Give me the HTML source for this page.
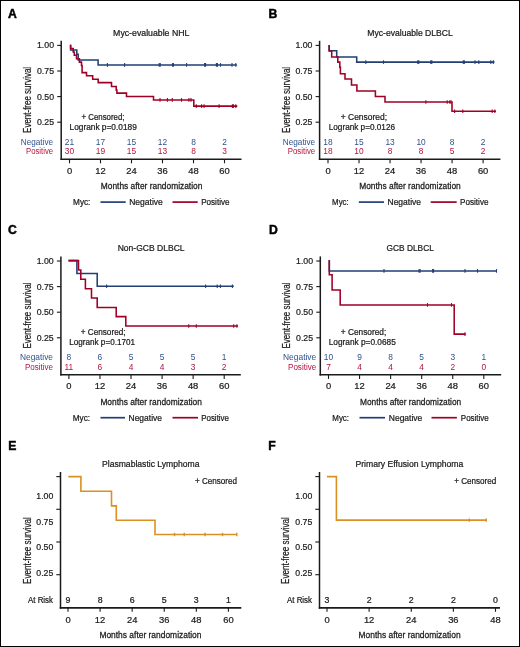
<!DOCTYPE html>
<html><head><meta charset="utf-8"><style>
html,body{margin:0;padding:0;background:#fff;}
body{width:520px;height:647px;overflow:hidden;}
svg{display:block;font-family:"Liberation Sans",sans-serif;will-change:transform;}
</style></head><body>
<svg width="520" height="647" viewBox="0 0 520 647">
<rect x="0" y="0" width="520" height="647" fill="#fff"/>
<rect x="0.5" y="0.5" width="519" height="646" fill="none" stroke="#000" stroke-width="1"/>
<g fill="#1a1a1a">
<text x="8.00" y="18.00" font-size="12.2" fill="#000" font-weight="bold" stroke="#000" stroke-width="0.45">A</text>
<text x="113.10" y="35.50" font-size="8.5" textLength="76.30" lengthAdjust="spacingAndGlyphs" stroke="#1a1a1a" stroke-width="0.22">Myc-evaluable NHL</text>
<line x1="61.20" y1="40.80" x2="61.20" y2="159.95" stroke="#1a1a1a" stroke-width="1.5"/>
<line x1="60.45" y1="159.20" x2="241.50" y2="159.20" stroke="#1a1a1a" stroke-width="1.6"/>
<line x1="57.20" y1="45.40" x2="61.20" y2="45.40" stroke="#1a1a1a" stroke-width="1.1"/>
<text x="54.00" y="48.30" font-size="9.3" text-anchor="end" textLength="17.00" lengthAdjust="spacingAndGlyphs" stroke="#1a1a1a" stroke-width="0.22">1.00</text>
<line x1="57.20" y1="71.00" x2="61.20" y2="71.00" stroke="#1a1a1a" stroke-width="1.1"/>
<text x="54.00" y="73.90" font-size="9.3" text-anchor="end" textLength="17.00" lengthAdjust="spacingAndGlyphs" stroke="#1a1a1a" stroke-width="0.22">0.75</text>
<line x1="57.20" y1="96.60" x2="61.20" y2="96.60" stroke="#1a1a1a" stroke-width="1.1"/>
<text x="54.00" y="99.50" font-size="9.3" text-anchor="end" textLength="17.00" lengthAdjust="spacingAndGlyphs" stroke="#1a1a1a" stroke-width="0.22">0.50</text>
<line x1="57.20" y1="122.20" x2="61.20" y2="122.20" stroke="#1a1a1a" stroke-width="1.1"/>
<text x="54.00" y="125.10" font-size="9.3" text-anchor="end" textLength="17.00" lengthAdjust="spacingAndGlyphs" stroke="#1a1a1a" stroke-width="0.22">0.25</text>
<text transform="translate(31.20,132.90) rotate(-90)" font-size="10.6" textLength="66" lengthAdjust="spacingAndGlyphs" stroke="#1a1a1a" stroke-width="0.22">Event-free survival</text>
<line x1="69.50" y1="159.20" x2="69.50" y2="163.30" stroke="#1a1a1a" stroke-width="1.1"/>
<text x="69.50" y="173.70" font-size="9.4" text-anchor="middle" stroke="#1a1a1a" stroke-width="0.22">0</text>
<text x="69.50" y="144.50" font-size="8.4" text-anchor="middle" fill="#2f5190">21</text>
<text x="69.50" y="154.10" font-size="8.4" text-anchor="middle" fill="#b3143f">30</text>
<line x1="100.50" y1="159.20" x2="100.50" y2="163.30" stroke="#1a1a1a" stroke-width="1.1"/>
<text x="100.50" y="173.70" font-size="9.4" text-anchor="middle" stroke="#1a1a1a" stroke-width="0.22">12</text>
<text x="100.50" y="144.50" font-size="8.4" text-anchor="middle" fill="#2f5190">17</text>
<text x="100.50" y="154.10" font-size="8.4" text-anchor="middle" fill="#b3143f">19</text>
<line x1="131.50" y1="159.20" x2="131.50" y2="163.30" stroke="#1a1a1a" stroke-width="1.1"/>
<text x="131.50" y="173.70" font-size="9.4" text-anchor="middle" stroke="#1a1a1a" stroke-width="0.22">24</text>
<text x="131.50" y="144.50" font-size="8.4" text-anchor="middle" fill="#2f5190">15</text>
<text x="131.50" y="154.10" font-size="8.4" text-anchor="middle" fill="#b3143f">15</text>
<line x1="162.50" y1="159.20" x2="162.50" y2="163.30" stroke="#1a1a1a" stroke-width="1.1"/>
<text x="162.50" y="173.70" font-size="9.4" text-anchor="middle" stroke="#1a1a1a" stroke-width="0.22">36</text>
<text x="162.50" y="144.50" font-size="8.4" text-anchor="middle" fill="#2f5190">12</text>
<text x="162.50" y="154.10" font-size="8.4" text-anchor="middle" fill="#b3143f">13</text>
<line x1="193.50" y1="159.20" x2="193.50" y2="163.30" stroke="#1a1a1a" stroke-width="1.1"/>
<text x="193.50" y="173.70" font-size="9.4" text-anchor="middle" stroke="#1a1a1a" stroke-width="0.22">48</text>
<text x="193.50" y="144.50" font-size="8.4" text-anchor="middle" fill="#2f5190">8</text>
<text x="193.50" y="154.10" font-size="8.4" text-anchor="middle" fill="#b3143f">8</text>
<line x1="224.50" y1="159.20" x2="224.50" y2="163.30" stroke="#1a1a1a" stroke-width="1.1"/>
<text x="224.50" y="173.70" font-size="9.4" text-anchor="middle" stroke="#1a1a1a" stroke-width="0.22">60</text>
<text x="224.50" y="144.50" font-size="8.4" text-anchor="middle" fill="#2f5190">2</text>
<text x="224.50" y="154.10" font-size="8.4" text-anchor="middle" fill="#b3143f">3</text>
<text x="20.80" y="144.60" font-size="8.4" fill="#2f5190" textLength="32.30" lengthAdjust="spacingAndGlyphs">Negative</text>
<text x="26.00" y="154.20" font-size="8.4" fill="#b3143f" textLength="27.10" lengthAdjust="spacingAndGlyphs">Positive</text>
<text x="81.50" y="119.50" font-size="8.4" textLength="43.00" lengthAdjust="spacingAndGlyphs" stroke="#1a1a1a" stroke-width="0.22">+ Censored;</text>
<text x="69.50" y="129.50" font-size="8.4" textLength="67.30" lengthAdjust="spacingAndGlyphs" stroke="#1a1a1a" stroke-width="0.22">Logrank p=0.0189</text>
<text x="100.80" y="188.90" font-size="9.9" textLength="101.60" lengthAdjust="spacingAndGlyphs" stroke="#1a1a1a" stroke-width="0.28">Months after randomization</text>
<text x="73.10" y="204.90" font-size="8.4" textLength="17.30" lengthAdjust="spacingAndGlyphs" stroke="#1a1a1a" stroke-width="0.22">Myc:</text>
<line x1="100.50" y1="202.10" x2="125.70" y2="202.10" stroke="#213f75" stroke-width="1.7"/>
<text x="129.20" y="204.90" font-size="8.4" textLength="33.60" lengthAdjust="spacingAndGlyphs" stroke="#1a1a1a" stroke-width="0.22">Negative</text>
<line x1="172.50" y1="202.10" x2="197.70" y2="202.10" stroke="#9e0026" stroke-width="1.7"/>
<text x="201.20" y="204.90" font-size="8.4" textLength="28.30" lengthAdjust="spacingAndGlyphs" stroke="#1a1a1a" stroke-width="0.22">Positive</text>
<text x="268.50" y="18.00" font-size="12.2" fill="#000" font-weight="bold" stroke="#000" stroke-width="0.45">B</text>
<text x="367.30" y="35.50" font-size="8.5" textLength="85.50" lengthAdjust="spacingAndGlyphs" stroke="#1a1a1a" stroke-width="0.22">Myc-evaluable DLBCL</text>
<line x1="319.60" y1="40.80" x2="319.60" y2="159.95" stroke="#1a1a1a" stroke-width="1.5"/>
<line x1="318.85" y1="159.20" x2="500.40" y2="159.20" stroke="#1a1a1a" stroke-width="1.6"/>
<line x1="315.60" y1="45.40" x2="319.60" y2="45.40" stroke="#1a1a1a" stroke-width="1.1"/>
<text x="312.40" y="48.30" font-size="9.3" text-anchor="end" textLength="17.00" lengthAdjust="spacingAndGlyphs" stroke="#1a1a1a" stroke-width="0.22">1.00</text>
<line x1="315.60" y1="71.00" x2="319.60" y2="71.00" stroke="#1a1a1a" stroke-width="1.1"/>
<text x="312.40" y="73.90" font-size="9.3" text-anchor="end" textLength="17.00" lengthAdjust="spacingAndGlyphs" stroke="#1a1a1a" stroke-width="0.22">0.75</text>
<line x1="315.60" y1="96.60" x2="319.60" y2="96.60" stroke="#1a1a1a" stroke-width="1.1"/>
<text x="312.40" y="99.50" font-size="9.3" text-anchor="end" textLength="17.00" lengthAdjust="spacingAndGlyphs" stroke="#1a1a1a" stroke-width="0.22">0.50</text>
<line x1="315.60" y1="122.20" x2="319.60" y2="122.20" stroke="#1a1a1a" stroke-width="1.1"/>
<text x="312.40" y="125.10" font-size="9.3" text-anchor="end" textLength="17.00" lengthAdjust="spacingAndGlyphs" stroke="#1a1a1a" stroke-width="0.22">0.25</text>
<text transform="translate(289.90,132.90) rotate(-90)" font-size="10.6" textLength="66" lengthAdjust="spacingAndGlyphs" stroke="#1a1a1a" stroke-width="0.22">Event-free survival</text>
<line x1="328.00" y1="159.20" x2="328.00" y2="163.30" stroke="#1a1a1a" stroke-width="1.1"/>
<text x="328.00" y="173.70" font-size="9.4" text-anchor="middle" stroke="#1a1a1a" stroke-width="0.22">0</text>
<text x="328.00" y="144.50" font-size="8.4" text-anchor="middle" fill="#2f5190">18</text>
<text x="328.00" y="154.10" font-size="8.4" text-anchor="middle" fill="#b3143f">18</text>
<line x1="359.02" y1="159.20" x2="359.02" y2="163.30" stroke="#1a1a1a" stroke-width="1.1"/>
<text x="359.02" y="173.70" font-size="9.4" text-anchor="middle" stroke="#1a1a1a" stroke-width="0.22">12</text>
<text x="359.02" y="144.50" font-size="8.4" text-anchor="middle" fill="#2f5190">15</text>
<text x="359.02" y="154.10" font-size="8.4" text-anchor="middle" fill="#b3143f">10</text>
<line x1="390.04" y1="159.20" x2="390.04" y2="163.30" stroke="#1a1a1a" stroke-width="1.1"/>
<text x="390.04" y="173.70" font-size="9.4" text-anchor="middle" stroke="#1a1a1a" stroke-width="0.22">24</text>
<text x="390.04" y="144.50" font-size="8.4" text-anchor="middle" fill="#2f5190">13</text>
<text x="390.04" y="154.10" font-size="8.4" text-anchor="middle" fill="#b3143f">8</text>
<line x1="421.06" y1="159.20" x2="421.06" y2="163.30" stroke="#1a1a1a" stroke-width="1.1"/>
<text x="421.06" y="173.70" font-size="9.4" text-anchor="middle" stroke="#1a1a1a" stroke-width="0.22">36</text>
<text x="421.06" y="144.50" font-size="8.4" text-anchor="middle" fill="#2f5190">10</text>
<text x="421.06" y="154.10" font-size="8.4" text-anchor="middle" fill="#b3143f">8</text>
<line x1="452.08" y1="159.20" x2="452.08" y2="163.30" stroke="#1a1a1a" stroke-width="1.1"/>
<text x="452.08" y="173.70" font-size="9.4" text-anchor="middle" stroke="#1a1a1a" stroke-width="0.22">48</text>
<text x="452.08" y="144.50" font-size="8.4" text-anchor="middle" fill="#2f5190">8</text>
<text x="452.08" y="154.10" font-size="8.4" text-anchor="middle" fill="#b3143f">5</text>
<line x1="483.10" y1="159.20" x2="483.10" y2="163.30" stroke="#1a1a1a" stroke-width="1.1"/>
<text x="483.10" y="173.70" font-size="9.4" text-anchor="middle" stroke="#1a1a1a" stroke-width="0.22">60</text>
<text x="483.10" y="144.50" font-size="8.4" text-anchor="middle" fill="#2f5190">2</text>
<text x="483.10" y="154.10" font-size="8.4" text-anchor="middle" fill="#b3143f">2</text>
<text x="282.80" y="144.60" font-size="8.4" fill="#2f5190" textLength="32.40" lengthAdjust="spacingAndGlyphs">Negative</text>
<text x="287.70" y="154.20" font-size="8.4" fill="#b3143f" textLength="27.50" lengthAdjust="spacingAndGlyphs">Positive</text>
<text x="340.75" y="119.50" font-size="8.4" textLength="46.25" lengthAdjust="spacingAndGlyphs" stroke="#1a1a1a" stroke-width="0.22">+ Censored;</text>
<text x="328.75" y="129.50" font-size="8.4" textLength="66.25" lengthAdjust="spacingAndGlyphs" stroke="#1a1a1a" stroke-width="0.22">Logrank p=0.0126</text>
<text x="359.20" y="188.90" font-size="9.9" textLength="101.60" lengthAdjust="spacingAndGlyphs" stroke="#1a1a1a" stroke-width="0.28">Months after randomization</text>
<text x="332.10" y="204.90" font-size="8.4" textLength="16.60" lengthAdjust="spacingAndGlyphs" stroke="#1a1a1a" stroke-width="0.22">Myc:</text>
<line x1="358.80" y1="202.10" x2="384.00" y2="202.10" stroke="#213f75" stroke-width="1.7"/>
<text x="387.50" y="204.90" font-size="8.4" textLength="33.50" lengthAdjust="spacingAndGlyphs" stroke="#1a1a1a" stroke-width="0.22">Negative</text>
<line x1="430.70" y1="202.10" x2="456.70" y2="202.10" stroke="#9e0026" stroke-width="1.7"/>
<text x="460.10" y="204.90" font-size="8.4" textLength="28.40" lengthAdjust="spacingAndGlyphs" stroke="#1a1a1a" stroke-width="0.22">Positive</text>
<text x="8.00" y="233.60" font-size="12.2" fill="#000" font-weight="bold" stroke="#000" stroke-width="0.45">C</text>
<text x="117.70" y="251.10" font-size="8.5" textLength="66.90" lengthAdjust="spacingAndGlyphs" stroke="#1a1a1a" stroke-width="0.22">Non-GCB DLBCL</text>
<line x1="60.90" y1="256.40" x2="60.90" y2="375.55" stroke="#1a1a1a" stroke-width="1.5"/>
<line x1="60.15" y1="374.80" x2="240.80" y2="374.80" stroke="#1a1a1a" stroke-width="1.6"/>
<line x1="56.90" y1="261.00" x2="60.90" y2="261.00" stroke="#1a1a1a" stroke-width="1.1"/>
<text x="53.70" y="263.90" font-size="9.3" text-anchor="end" textLength="17.00" lengthAdjust="spacingAndGlyphs" stroke="#1a1a1a" stroke-width="0.22">1.00</text>
<line x1="56.90" y1="286.60" x2="60.90" y2="286.60" stroke="#1a1a1a" stroke-width="1.1"/>
<text x="53.70" y="289.50" font-size="9.3" text-anchor="end" textLength="17.00" lengthAdjust="spacingAndGlyphs" stroke="#1a1a1a" stroke-width="0.22">0.75</text>
<line x1="56.90" y1="312.20" x2="60.90" y2="312.20" stroke="#1a1a1a" stroke-width="1.1"/>
<text x="53.70" y="315.10" font-size="9.3" text-anchor="end" textLength="17.00" lengthAdjust="spacingAndGlyphs" stroke="#1a1a1a" stroke-width="0.22">0.50</text>
<line x1="56.90" y1="337.80" x2="60.90" y2="337.80" stroke="#1a1a1a" stroke-width="1.1"/>
<text x="53.70" y="340.70" font-size="9.3" text-anchor="end" textLength="17.00" lengthAdjust="spacingAndGlyphs" stroke="#1a1a1a" stroke-width="0.22">0.25</text>
<text transform="translate(31.20,348.50) rotate(-90)" font-size="10.6" textLength="66" lengthAdjust="spacingAndGlyphs" stroke="#1a1a1a" stroke-width="0.22">Event-free survival</text>
<line x1="68.90" y1="374.80" x2="68.90" y2="378.90" stroke="#1a1a1a" stroke-width="1.1"/>
<text x="68.90" y="389.30" font-size="9.4" text-anchor="middle" stroke="#1a1a1a" stroke-width="0.22">0</text>
<text x="68.90" y="360.10" font-size="8.4" text-anchor="middle" fill="#2f5190">8</text>
<text x="68.90" y="369.70" font-size="8.4" text-anchor="middle" fill="#b3143f">11</text>
<line x1="99.96" y1="374.80" x2="99.96" y2="378.90" stroke="#1a1a1a" stroke-width="1.1"/>
<text x="99.96" y="389.30" font-size="9.4" text-anchor="middle" stroke="#1a1a1a" stroke-width="0.22">12</text>
<text x="99.96" y="360.10" font-size="8.4" text-anchor="middle" fill="#2f5190">6</text>
<text x="99.96" y="369.70" font-size="8.4" text-anchor="middle" fill="#b3143f">6</text>
<line x1="131.02" y1="374.80" x2="131.02" y2="378.90" stroke="#1a1a1a" stroke-width="1.1"/>
<text x="131.02" y="389.30" font-size="9.4" text-anchor="middle" stroke="#1a1a1a" stroke-width="0.22">24</text>
<text x="131.02" y="360.10" font-size="8.4" text-anchor="middle" fill="#2f5190">5</text>
<text x="131.02" y="369.70" font-size="8.4" text-anchor="middle" fill="#b3143f">4</text>
<line x1="162.08" y1="374.80" x2="162.08" y2="378.90" stroke="#1a1a1a" stroke-width="1.1"/>
<text x="162.08" y="389.30" font-size="9.4" text-anchor="middle" stroke="#1a1a1a" stroke-width="0.22">36</text>
<text x="162.08" y="360.10" font-size="8.4" text-anchor="middle" fill="#2f5190">5</text>
<text x="162.08" y="369.70" font-size="8.4" text-anchor="middle" fill="#b3143f">4</text>
<line x1="193.14" y1="374.80" x2="193.14" y2="378.90" stroke="#1a1a1a" stroke-width="1.1"/>
<text x="193.14" y="389.30" font-size="9.4" text-anchor="middle" stroke="#1a1a1a" stroke-width="0.22">48</text>
<text x="193.14" y="360.10" font-size="8.4" text-anchor="middle" fill="#2f5190">5</text>
<text x="193.14" y="369.70" font-size="8.4" text-anchor="middle" fill="#b3143f">3</text>
<line x1="224.20" y1="374.80" x2="224.20" y2="378.90" stroke="#1a1a1a" stroke-width="1.1"/>
<text x="224.20" y="389.30" font-size="9.4" text-anchor="middle" stroke="#1a1a1a" stroke-width="0.22">60</text>
<text x="224.20" y="360.10" font-size="8.4" text-anchor="middle" fill="#2f5190">1</text>
<text x="224.20" y="369.70" font-size="8.4" text-anchor="middle" fill="#b3143f">2</text>
<text x="20.00" y="360.20" font-size="8.4" fill="#2f5190" textLength="33.00" lengthAdjust="spacingAndGlyphs">Negative</text>
<text x="25.00" y="369.80" font-size="8.4" fill="#b3143f" textLength="28.00" lengthAdjust="spacingAndGlyphs">Positive</text>
<text x="80.75" y="335.10" font-size="8.4" textLength="44.75" lengthAdjust="spacingAndGlyphs" stroke="#1a1a1a" stroke-width="0.22">+ Censored;</text>
<text x="69.25" y="345.10" font-size="8.4" textLength="65.75" lengthAdjust="spacingAndGlyphs" stroke="#1a1a1a" stroke-width="0.22">Logrank p=0.1701</text>
<text x="100.40" y="404.50" font-size="9.9" textLength="101.50" lengthAdjust="spacingAndGlyphs" stroke="#1a1a1a" stroke-width="0.28">Months after randomization</text>
<text x="72.80" y="420.50" font-size="8.4" textLength="17.30" lengthAdjust="spacingAndGlyphs" stroke="#1a1a1a" stroke-width="0.22">Myc:</text>
<line x1="100.50" y1="417.70" x2="125.00" y2="417.70" stroke="#213f75" stroke-width="1.7"/>
<text x="128.50" y="420.50" font-size="8.4" textLength="33.50" lengthAdjust="spacingAndGlyphs" stroke="#1a1a1a" stroke-width="0.22">Negative</text>
<line x1="172.50" y1="417.70" x2="198.00" y2="417.70" stroke="#9e0026" stroke-width="1.7"/>
<text x="201.20" y="420.50" font-size="8.4" textLength="27.80" lengthAdjust="spacingAndGlyphs" stroke="#1a1a1a" stroke-width="0.22">Positive</text>
<text x="269.00" y="233.60" font-size="12.2" fill="#000" font-weight="bold" stroke="#000" stroke-width="0.45">D</text>
<text x="386.60" y="251.10" font-size="8.5" textLength="47.20" lengthAdjust="spacingAndGlyphs" stroke="#1a1a1a" stroke-width="0.22">GCB DLBCL</text>
<line x1="320.30" y1="256.40" x2="320.30" y2="375.55" stroke="#1a1a1a" stroke-width="1.5"/>
<line x1="319.55" y1="374.80" x2="501.20" y2="374.80" stroke="#1a1a1a" stroke-width="1.6"/>
<line x1="316.30" y1="261.00" x2="320.30" y2="261.00" stroke="#1a1a1a" stroke-width="1.1"/>
<text x="313.10" y="263.90" font-size="9.3" text-anchor="end" textLength="17.00" lengthAdjust="spacingAndGlyphs" stroke="#1a1a1a" stroke-width="0.22">1.00</text>
<line x1="316.30" y1="286.60" x2="320.30" y2="286.60" stroke="#1a1a1a" stroke-width="1.1"/>
<text x="313.10" y="289.50" font-size="9.3" text-anchor="end" textLength="17.00" lengthAdjust="spacingAndGlyphs" stroke="#1a1a1a" stroke-width="0.22">0.75</text>
<line x1="316.30" y1="312.20" x2="320.30" y2="312.20" stroke="#1a1a1a" stroke-width="1.1"/>
<text x="313.10" y="315.10" font-size="9.3" text-anchor="end" textLength="17.00" lengthAdjust="spacingAndGlyphs" stroke="#1a1a1a" stroke-width="0.22">0.50</text>
<line x1="316.30" y1="337.80" x2="320.30" y2="337.80" stroke="#1a1a1a" stroke-width="1.1"/>
<text x="313.10" y="340.70" font-size="9.3" text-anchor="end" textLength="17.00" lengthAdjust="spacingAndGlyphs" stroke="#1a1a1a" stroke-width="0.22">0.25</text>
<text transform="translate(289.90,348.50) rotate(-90)" font-size="10.6" textLength="66" lengthAdjust="spacingAndGlyphs" stroke="#1a1a1a" stroke-width="0.22">Event-free survival</text>
<line x1="328.50" y1="374.80" x2="328.50" y2="378.90" stroke="#1a1a1a" stroke-width="1.1"/>
<text x="328.50" y="389.30" font-size="9.4" text-anchor="middle" stroke="#1a1a1a" stroke-width="0.22">0</text>
<text x="328.50" y="360.10" font-size="8.4" text-anchor="middle" fill="#2f5190">10</text>
<text x="328.50" y="369.70" font-size="8.4" text-anchor="middle" fill="#b3143f">7</text>
<line x1="359.56" y1="374.80" x2="359.56" y2="378.90" stroke="#1a1a1a" stroke-width="1.1"/>
<text x="359.56" y="389.30" font-size="9.4" text-anchor="middle" stroke="#1a1a1a" stroke-width="0.22">12</text>
<text x="359.56" y="360.10" font-size="8.4" text-anchor="middle" fill="#2f5190">9</text>
<text x="359.56" y="369.70" font-size="8.4" text-anchor="middle" fill="#b3143f">4</text>
<line x1="390.62" y1="374.80" x2="390.62" y2="378.90" stroke="#1a1a1a" stroke-width="1.1"/>
<text x="390.62" y="389.30" font-size="9.4" text-anchor="middle" stroke="#1a1a1a" stroke-width="0.22">24</text>
<text x="390.62" y="360.10" font-size="8.4" text-anchor="middle" fill="#2f5190">8</text>
<text x="390.62" y="369.70" font-size="8.4" text-anchor="middle" fill="#b3143f">4</text>
<line x1="421.68" y1="374.80" x2="421.68" y2="378.90" stroke="#1a1a1a" stroke-width="1.1"/>
<text x="421.68" y="389.30" font-size="9.4" text-anchor="middle" stroke="#1a1a1a" stroke-width="0.22">36</text>
<text x="421.68" y="360.10" font-size="8.4" text-anchor="middle" fill="#2f5190">5</text>
<text x="421.68" y="369.70" font-size="8.4" text-anchor="middle" fill="#b3143f">4</text>
<line x1="452.74" y1="374.80" x2="452.74" y2="378.90" stroke="#1a1a1a" stroke-width="1.1"/>
<text x="452.74" y="389.30" font-size="9.4" text-anchor="middle" stroke="#1a1a1a" stroke-width="0.22">48</text>
<text x="452.74" y="360.10" font-size="8.4" text-anchor="middle" fill="#2f5190">3</text>
<text x="452.74" y="369.70" font-size="8.4" text-anchor="middle" fill="#b3143f">2</text>
<line x1="483.80" y1="374.80" x2="483.80" y2="378.90" stroke="#1a1a1a" stroke-width="1.1"/>
<text x="483.80" y="389.30" font-size="9.4" text-anchor="middle" stroke="#1a1a1a" stroke-width="0.22">60</text>
<text x="483.80" y="360.10" font-size="8.4" text-anchor="middle" fill="#2f5190">1</text>
<text x="483.80" y="369.70" font-size="8.4" text-anchor="middle" fill="#b3143f">0</text>
<text x="283.00" y="360.20" font-size="8.4" fill="#2f5190" textLength="33.25" lengthAdjust="spacingAndGlyphs">Negative</text>
<text x="288.00" y="369.80" font-size="8.4" fill="#b3143f" textLength="28.25" lengthAdjust="spacingAndGlyphs">Positive</text>
<text x="340.75" y="335.10" font-size="8.4" textLength="45.50" lengthAdjust="spacingAndGlyphs" stroke="#1a1a1a" stroke-width="0.22">+ Censored;</text>
<text x="328.75" y="345.10" font-size="8.4" textLength="67.00" lengthAdjust="spacingAndGlyphs" stroke="#1a1a1a" stroke-width="0.22">Logrank p=0.0685</text>
<text x="360.00" y="404.50" font-size="9.9" textLength="101.20" lengthAdjust="spacingAndGlyphs" stroke="#1a1a1a" stroke-width="0.28">Months after randomization</text>
<text x="332.30" y="420.50" font-size="8.4" textLength="16.70" lengthAdjust="spacingAndGlyphs" stroke="#1a1a1a" stroke-width="0.22">Myc:</text>
<line x1="359.50" y1="417.70" x2="385.00" y2="417.70" stroke="#213f75" stroke-width="1.7"/>
<text x="388.80" y="420.50" font-size="8.4" textLength="33.50" lengthAdjust="spacingAndGlyphs" stroke="#1a1a1a" stroke-width="0.22">Negative</text>
<line x1="431.50" y1="417.70" x2="456.90" y2="417.70" stroke="#9e0026" stroke-width="1.7"/>
<text x="460.80" y="420.50" font-size="8.4" textLength="28.00" lengthAdjust="spacingAndGlyphs" stroke="#1a1a1a" stroke-width="0.22">Positive</text>
<path d="M70.60,44.70 H70.60 V49.90 H76.80 V54.30 H78.20 V59.90 H98.10 V64.90 H236.90" fill="none" stroke="#213f75" stroke-width="1.55" stroke-linejoin="miter" stroke-linecap="butt"/>
<line x1="107.40" y1="63.10" x2="107.40" y2="66.70" stroke="#213f75" stroke-width="1.1"/>
<line x1="124.60" y1="63.10" x2="124.60" y2="66.70" stroke="#213f75" stroke-width="1.1"/>
<line x1="159.20" y1="63.10" x2="159.20" y2="66.70" stroke="#213f75" stroke-width="1.1"/>
<line x1="160.20" y1="63.10" x2="160.20" y2="66.70" stroke="#213f75" stroke-width="1.1"/>
<line x1="172.50" y1="63.10" x2="172.50" y2="66.70" stroke="#213f75" stroke-width="1.1"/>
<line x1="173.50" y1="63.10" x2="173.50" y2="66.70" stroke="#213f75" stroke-width="1.1"/>
<line x1="186.60" y1="63.10" x2="186.60" y2="66.70" stroke="#213f75" stroke-width="1.1"/>
<line x1="204.60" y1="63.10" x2="204.60" y2="66.70" stroke="#213f75" stroke-width="1.1"/>
<line x1="205.60" y1="63.10" x2="205.60" y2="66.70" stroke="#213f75" stroke-width="1.1"/>
<line x1="216.40" y1="63.10" x2="216.40" y2="66.70" stroke="#213f75" stroke-width="1.1"/>
<line x1="217.40" y1="63.10" x2="217.40" y2="66.70" stroke="#213f75" stroke-width="1.1"/>
<line x1="220.50" y1="63.10" x2="220.50" y2="66.70" stroke="#213f75" stroke-width="1.1"/>
<line x1="232.00" y1="63.10" x2="232.00" y2="66.70" stroke="#213f75" stroke-width="1.1"/>
<line x1="235.80" y1="63.10" x2="235.80" y2="66.70" stroke="#213f75" stroke-width="1.1"/>
<path d="M70.60,44.70 H70.60 V48.50 H73.20 V52.00 H74.30 V55.30 H76.50 V58.80 H79.40 V62.10 H81.50 V65.50 H82.10 V72.60 H86.50 V75.70 H92.70 V79.20 H98.20 V82.60 H111.50 V86.50 H116.20 V90.00 H116.90 V93.10 H126.50 V96.40 H153.50 V99.90 H193.80 V106.10 H237.30" fill="none" stroke="#9e0026" stroke-width="1.55" stroke-linejoin="miter" stroke-linecap="butt"/>
<line x1="160.00" y1="98.10" x2="160.00" y2="101.70" stroke="#9e0026" stroke-width="1.1"/>
<line x1="167.40" y1="98.10" x2="167.40" y2="101.70" stroke="#9e0026" stroke-width="1.1"/>
<line x1="172.30" y1="98.10" x2="172.30" y2="101.70" stroke="#9e0026" stroke-width="1.1"/>
<line x1="181.50" y1="98.10" x2="181.50" y2="101.70" stroke="#9e0026" stroke-width="1.1"/>
<line x1="188.90" y1="98.10" x2="188.90" y2="101.70" stroke="#9e0026" stroke-width="1.1"/>
<line x1="191.00" y1="98.10" x2="191.00" y2="101.70" stroke="#9e0026" stroke-width="1.1"/>
<line x1="196.30" y1="104.30" x2="196.30" y2="107.90" stroke="#9e0026" stroke-width="1.1"/>
<line x1="201.60" y1="104.30" x2="201.60" y2="107.90" stroke="#9e0026" stroke-width="1.1"/>
<line x1="204.10" y1="104.30" x2="204.10" y2="107.90" stroke="#9e0026" stroke-width="1.1"/>
<line x1="219.10" y1="104.30" x2="219.10" y2="107.90" stroke="#9e0026" stroke-width="1.1"/>
<line x1="232.40" y1="104.30" x2="232.40" y2="107.90" stroke="#9e0026" stroke-width="1.1"/>
<line x1="233.50" y1="104.30" x2="233.50" y2="107.90" stroke="#9e0026" stroke-width="1.1"/>
<line x1="235.80" y1="104.30" x2="235.80" y2="107.90" stroke="#9e0026" stroke-width="1.1"/>
<path d="M329.20,44.90 H329.20 V50.70 H336.70 V56.90 H356.70 V62.10 H494.50" fill="none" stroke="#213f75" stroke-width="1.55" stroke-linejoin="miter" stroke-linecap="butt"/>
<line x1="365.80" y1="60.30" x2="365.80" y2="63.90" stroke="#213f75" stroke-width="1.1"/>
<line x1="383.50" y1="60.30" x2="383.50" y2="63.90" stroke="#213f75" stroke-width="1.1"/>
<line x1="417.80" y1="60.30" x2="417.80" y2="63.90" stroke="#213f75" stroke-width="1.1"/>
<line x1="418.80" y1="60.30" x2="418.80" y2="63.90" stroke="#213f75" stroke-width="1.1"/>
<line x1="430.80" y1="60.30" x2="430.80" y2="63.90" stroke="#213f75" stroke-width="1.1"/>
<line x1="431.80" y1="60.30" x2="431.80" y2="63.90" stroke="#213f75" stroke-width="1.1"/>
<line x1="463.30" y1="60.30" x2="463.30" y2="63.90" stroke="#213f75" stroke-width="1.1"/>
<line x1="464.30" y1="60.30" x2="464.30" y2="63.90" stroke="#213f75" stroke-width="1.1"/>
<line x1="475.00" y1="60.30" x2="475.00" y2="63.90" stroke="#213f75" stroke-width="1.1"/>
<line x1="478.80" y1="60.30" x2="478.80" y2="63.90" stroke="#213f75" stroke-width="1.1"/>
<line x1="490.80" y1="60.30" x2="490.80" y2="63.90" stroke="#213f75" stroke-width="1.1"/>
<line x1="493.30" y1="60.30" x2="493.30" y2="63.90" stroke="#213f75" stroke-width="1.1"/>
<path d="M329.20,44.90 H329.20 V50.90 H331.70 V56.90 H337.80 V62.10 H339.80 V67.30 H340.40 V73.70 H345.00 V78.90 H351.50 V84.90 H356.90 V91.00 H375.40 V96.50 H385.00 V102.00 H452.00 V111.30 H496.00" fill="none" stroke="#9e0026" stroke-width="1.55" stroke-linejoin="miter" stroke-linecap="butt"/>
<line x1="425.90" y1="100.20" x2="425.90" y2="103.80" stroke="#9e0026" stroke-width="1.1"/>
<line x1="447.20" y1="100.20" x2="447.20" y2="103.80" stroke="#9e0026" stroke-width="1.1"/>
<line x1="449.80" y1="100.20" x2="449.80" y2="103.80" stroke="#9e0026" stroke-width="1.1"/>
<line x1="451.00" y1="100.20" x2="451.00" y2="103.80" stroke="#9e0026" stroke-width="1.1"/>
<line x1="454.60" y1="109.50" x2="454.60" y2="113.10" stroke="#9e0026" stroke-width="1.1"/>
<line x1="462.80" y1="109.50" x2="462.80" y2="113.10" stroke="#9e0026" stroke-width="1.1"/>
<line x1="492.20" y1="109.50" x2="492.20" y2="113.10" stroke="#9e0026" stroke-width="1.1"/>
<line x1="494.80" y1="109.50" x2="494.80" y2="113.10" stroke="#9e0026" stroke-width="1.1"/>
<path d="M68.50,260.60 H76.90 V273.40 H97.20 V286.30 H233.80" fill="none" stroke="#213f75" stroke-width="1.55" stroke-linejoin="miter" stroke-linecap="butt"/>
<line x1="106.60" y1="284.50" x2="106.60" y2="288.10" stroke="#213f75" stroke-width="1.1"/>
<line x1="205.60" y1="284.50" x2="205.60" y2="288.10" stroke="#213f75" stroke-width="1.1"/>
<line x1="217.20" y1="284.50" x2="217.20" y2="288.10" stroke="#213f75" stroke-width="1.1"/>
<line x1="220.40" y1="284.50" x2="220.40" y2="288.10" stroke="#213f75" stroke-width="1.1"/>
<line x1="232.40" y1="284.50" x2="232.40" y2="288.10" stroke="#213f75" stroke-width="1.1"/>
<path d="M68.50,260.60 H78.50 V270.00 H80.80 V279.20 H85.40 V288.80 H91.50 V298.00 H97.20 V307.40 H116.20 V316.60 H125.80 V326.00 H238.00" fill="none" stroke="#9e0026" stroke-width="1.55" stroke-linejoin="miter" stroke-linecap="butt"/>
<line x1="188.70" y1="324.20" x2="188.70" y2="327.80" stroke="#9e0026" stroke-width="1.1"/>
<line x1="196.30" y1="324.20" x2="196.30" y2="327.80" stroke="#9e0026" stroke-width="1.1"/>
<line x1="233.70" y1="324.20" x2="233.70" y2="327.80" stroke="#9e0026" stroke-width="1.1"/>
<line x1="236.90" y1="324.20" x2="236.90" y2="327.80" stroke="#9e0026" stroke-width="1.1"/>
<path d="M329.30,260.30 H329.30 V270.90 H497.00" fill="none" stroke="#213f75" stroke-width="1.55" stroke-linejoin="miter" stroke-linecap="butt"/>
<line x1="384.00" y1="269.10" x2="384.00" y2="272.70" stroke="#213f75" stroke-width="1.1"/>
<line x1="419.10" y1="269.10" x2="419.10" y2="272.70" stroke="#213f75" stroke-width="1.1"/>
<line x1="420.10" y1="269.10" x2="420.10" y2="272.70" stroke="#213f75" stroke-width="1.1"/>
<line x1="432.60" y1="269.10" x2="432.60" y2="272.70" stroke="#213f75" stroke-width="1.1"/>
<line x1="433.60" y1="269.10" x2="433.60" y2="272.70" stroke="#213f75" stroke-width="1.1"/>
<line x1="465.00" y1="269.10" x2="465.00" y2="272.70" stroke="#213f75" stroke-width="1.1"/>
<line x1="477.50" y1="269.10" x2="477.50" y2="272.70" stroke="#213f75" stroke-width="1.1"/>
<line x1="496.50" y1="269.10" x2="496.50" y2="272.70" stroke="#213f75" stroke-width="1.1"/>
<path d="M329.30,260.00 H329.30 V274.70 H332.10 V290.00 H340.20 V304.90 H454.20 V334.10 H465.60" fill="none" stroke="#9e0026" stroke-width="1.55" stroke-linejoin="miter" stroke-linecap="butt"/>
<line x1="427.50" y1="303.10" x2="427.50" y2="306.70" stroke="#9e0026" stroke-width="1.1"/>
<line x1="451.50" y1="303.10" x2="451.50" y2="306.70" stroke="#9e0026" stroke-width="1.1"/>
<line x1="465.00" y1="332.30" x2="465.00" y2="335.90" stroke="#9e0026" stroke-width="1.1"/>
<text x="8.20" y="450.00" font-size="12.2" fill="#000" font-weight="bold" stroke="#000" stroke-width="0.45">E</text>
<text x="102.00" y="466.70" font-size="8.5" textLength="97.50" lengthAdjust="spacingAndGlyphs" stroke="#1a1a1a" stroke-width="0.22">Plasmablastic Lymphoma</text>
<text x="195.00" y="484.20" font-size="8.4" textLength="42.00" lengthAdjust="spacingAndGlyphs" stroke="#1a1a1a" stroke-width="0.22">+ Censored</text>
<line x1="60.50" y1="472.00" x2="60.50" y2="608.70" stroke="#1a1a1a" stroke-width="1.5"/>
<line x1="59.75" y1="607.90" x2="241.30" y2="607.90" stroke="#1a1a1a" stroke-width="1.6"/>
<line x1="56.30" y1="476.60" x2="60.50" y2="476.60" stroke="#1a1a1a" stroke-width="1.1"/>
<line x1="56.30" y1="509.30" x2="60.50" y2="509.30" stroke="#1a1a1a" stroke-width="1.1"/>
<line x1="56.30" y1="542.00" x2="60.50" y2="542.00" stroke="#1a1a1a" stroke-width="1.1"/>
<line x1="56.30" y1="574.70" x2="60.50" y2="574.70" stroke="#1a1a1a" stroke-width="1.1"/>
<text x="53.30" y="498.80" font-size="9.3" text-anchor="end" textLength="17.00" lengthAdjust="spacingAndGlyphs" stroke="#1a1a1a" stroke-width="0.22">1.00</text>
<text x="53.30" y="524.55" font-size="9.3" text-anchor="end" textLength="17.00" lengthAdjust="spacingAndGlyphs" stroke="#1a1a1a" stroke-width="0.22">0.75</text>
<text x="53.30" y="550.30" font-size="9.3" text-anchor="end" textLength="17.00" lengthAdjust="spacingAndGlyphs" stroke="#1a1a1a" stroke-width="0.22">0.50</text>
<text x="53.30" y="575.80" font-size="9.3" text-anchor="end" textLength="17.00" lengthAdjust="spacingAndGlyphs" stroke="#1a1a1a" stroke-width="0.22">0.25</text>
<text x="28.00" y="602.50" font-size="8.5" textLength="25.00" lengthAdjust="spacingAndGlyphs" stroke="#1a1a1a" stroke-width="0.22">At Risk</text>
<line x1="68.00" y1="607.90" x2="68.00" y2="611.80" stroke="#1a1a1a" stroke-width="1.1"/>
<text x="68.00" y="622.60" font-size="9.4" text-anchor="middle" stroke="#1a1a1a" stroke-width="0.22">0</text>
<text x="68.00" y="602.70" font-size="8.8" text-anchor="middle" stroke="#1a1a1a" stroke-width="0.22">9</text>
<line x1="100.08" y1="607.90" x2="100.08" y2="611.80" stroke="#1a1a1a" stroke-width="1.1"/>
<text x="100.08" y="622.60" font-size="9.4" text-anchor="middle" stroke="#1a1a1a" stroke-width="0.22">12</text>
<text x="100.08" y="602.70" font-size="8.8" text-anchor="middle" stroke="#1a1a1a" stroke-width="0.22">8</text>
<line x1="132.16" y1="607.90" x2="132.16" y2="611.80" stroke="#1a1a1a" stroke-width="1.1"/>
<text x="132.16" y="622.60" font-size="9.4" text-anchor="middle" stroke="#1a1a1a" stroke-width="0.22">24</text>
<text x="132.16" y="602.70" font-size="8.8" text-anchor="middle" stroke="#1a1a1a" stroke-width="0.22">6</text>
<line x1="164.24" y1="607.90" x2="164.24" y2="611.80" stroke="#1a1a1a" stroke-width="1.1"/>
<text x="164.24" y="622.60" font-size="9.4" text-anchor="middle" stroke="#1a1a1a" stroke-width="0.22">36</text>
<text x="164.24" y="602.70" font-size="8.8" text-anchor="middle" stroke="#1a1a1a" stroke-width="0.22">5</text>
<line x1="196.32" y1="607.90" x2="196.32" y2="611.80" stroke="#1a1a1a" stroke-width="1.1"/>
<text x="196.32" y="622.60" font-size="9.4" text-anchor="middle" stroke="#1a1a1a" stroke-width="0.22">48</text>
<text x="196.32" y="602.70" font-size="8.8" text-anchor="middle" stroke="#1a1a1a" stroke-width="0.22">3</text>
<line x1="228.40" y1="607.90" x2="228.40" y2="611.80" stroke="#1a1a1a" stroke-width="1.1"/>
<text x="228.40" y="622.60" font-size="9.4" text-anchor="middle" stroke="#1a1a1a" stroke-width="0.22">60</text>
<text x="228.40" y="602.70" font-size="8.8" text-anchor="middle" stroke="#1a1a1a" stroke-width="0.22">1</text>
<text x="99.40" y="637.50" font-size="9.9" textLength="102.10" lengthAdjust="spacingAndGlyphs" stroke="#1a1a1a" stroke-width="0.28">Months after randomization</text>
<text transform="translate(30.50,584.0) rotate(-90)" font-size="10.6" textLength="66.8" lengthAdjust="spacingAndGlyphs" stroke="#1a1a1a" stroke-width="0.22">Event-free survival</text>
<text x="268.20" y="450.00" font-size="12.2" fill="#000" font-weight="bold" stroke="#000" stroke-width="0.45">F</text>
<text x="355.50" y="466.70" font-size="8.5" textLength="107.75" lengthAdjust="spacingAndGlyphs" stroke="#1a1a1a" stroke-width="0.22">Primary Effusion Lymphoma</text>
<text x="454.25" y="484.20" font-size="8.4" textLength="42.00" lengthAdjust="spacingAndGlyphs" stroke="#1a1a1a" stroke-width="0.22">+ Censored</text>
<line x1="319.50" y1="472.00" x2="319.50" y2="608.70" stroke="#1a1a1a" stroke-width="1.5"/>
<line x1="318.75" y1="607.90" x2="500.00" y2="607.90" stroke="#1a1a1a" stroke-width="1.6"/>
<line x1="315.30" y1="476.60" x2="319.50" y2="476.60" stroke="#1a1a1a" stroke-width="1.1"/>
<line x1="315.30" y1="509.30" x2="319.50" y2="509.30" stroke="#1a1a1a" stroke-width="1.1"/>
<line x1="315.30" y1="542.00" x2="319.50" y2="542.00" stroke="#1a1a1a" stroke-width="1.1"/>
<line x1="315.30" y1="574.70" x2="319.50" y2="574.70" stroke="#1a1a1a" stroke-width="1.1"/>
<text x="312.30" y="498.80" font-size="9.3" text-anchor="end" textLength="17.00" lengthAdjust="spacingAndGlyphs" stroke="#1a1a1a" stroke-width="0.22">1.00</text>
<text x="312.30" y="524.55" font-size="9.3" text-anchor="end" textLength="17.00" lengthAdjust="spacingAndGlyphs" stroke="#1a1a1a" stroke-width="0.22">0.75</text>
<text x="312.30" y="550.30" font-size="9.3" text-anchor="end" textLength="17.00" lengthAdjust="spacingAndGlyphs" stroke="#1a1a1a" stroke-width="0.22">0.50</text>
<text x="312.30" y="575.80" font-size="9.3" text-anchor="end" textLength="17.00" lengthAdjust="spacingAndGlyphs" stroke="#1a1a1a" stroke-width="0.22">0.25</text>
<text x="287.00" y="602.50" font-size="8.5" textLength="25.00" lengthAdjust="spacingAndGlyphs" stroke="#1a1a1a" stroke-width="0.22">At Risk</text>
<line x1="327.00" y1="607.90" x2="327.00" y2="611.80" stroke="#1a1a1a" stroke-width="1.1"/>
<text x="327.00" y="622.60" font-size="9.4" text-anchor="middle" stroke="#1a1a1a" stroke-width="0.22">0</text>
<text x="327.00" y="602.70" font-size="8.8" text-anchor="middle" stroke="#1a1a1a" stroke-width="0.22">3</text>
<line x1="369.12" y1="607.90" x2="369.12" y2="611.80" stroke="#1a1a1a" stroke-width="1.1"/>
<text x="369.12" y="622.60" font-size="9.4" text-anchor="middle" stroke="#1a1a1a" stroke-width="0.22">12</text>
<text x="369.12" y="602.70" font-size="8.8" text-anchor="middle" stroke="#1a1a1a" stroke-width="0.22">2</text>
<line x1="411.25" y1="607.90" x2="411.25" y2="611.80" stroke="#1a1a1a" stroke-width="1.1"/>
<text x="411.25" y="622.60" font-size="9.4" text-anchor="middle" stroke="#1a1a1a" stroke-width="0.22">24</text>
<text x="411.25" y="602.70" font-size="8.8" text-anchor="middle" stroke="#1a1a1a" stroke-width="0.22">2</text>
<line x1="453.38" y1="607.90" x2="453.38" y2="611.80" stroke="#1a1a1a" stroke-width="1.1"/>
<text x="453.38" y="622.60" font-size="9.4" text-anchor="middle" stroke="#1a1a1a" stroke-width="0.22">36</text>
<text x="453.38" y="602.70" font-size="8.8" text-anchor="middle" stroke="#1a1a1a" stroke-width="0.22">2</text>
<line x1="495.50" y1="607.90" x2="495.50" y2="611.80" stroke="#1a1a1a" stroke-width="1.1"/>
<text x="495.50" y="622.60" font-size="9.4" text-anchor="middle" stroke="#1a1a1a" stroke-width="0.22">48</text>
<text x="495.50" y="602.70" font-size="8.8" text-anchor="middle" stroke="#1a1a1a" stroke-width="0.22">0</text>
<text x="358.50" y="637.50" font-size="9.9" textLength="102.10" lengthAdjust="spacingAndGlyphs" stroke="#1a1a1a" stroke-width="0.28">Months after randomization</text>
<text transform="translate(289.30,584.0) rotate(-90)" font-size="10.6" textLength="66.8" lengthAdjust="spacingAndGlyphs" stroke="#1a1a1a" stroke-width="0.22">Event-free survival</text>
<path d="M68.30,476.60 H80.90 V491.20 H111.50 V505.90 H116.30 V520.30 H155.00 V534.50 H237.00" fill="none" stroke="#da9124" stroke-width="1.6" stroke-linejoin="miter" stroke-linecap="butt"/>
<line x1="174.50" y1="532.80" x2="174.50" y2="536.20" stroke="#da9124" stroke-width="1.4"/>
<line x1="184.25" y1="532.80" x2="184.25" y2="536.20" stroke="#da9124" stroke-width="1.4"/>
<line x1="205.00" y1="532.80" x2="205.00" y2="536.20" stroke="#da9124" stroke-width="1.4"/>
<line x1="222.50" y1="532.80" x2="222.50" y2="536.20" stroke="#da9124" stroke-width="1.4"/>
<line x1="236.75" y1="532.80" x2="236.75" y2="536.20" stroke="#da9124" stroke-width="1.4"/>
<path d="M327.00,476.60 H336.40 V520.10 H486.50" fill="none" stroke="#da9124" stroke-width="1.6" stroke-linejoin="miter" stroke-linecap="butt"/>
<line x1="469.25" y1="518.40" x2="469.25" y2="521.80" stroke="#da9124" stroke-width="1.4"/>
<line x1="486.25" y1="518.40" x2="486.25" y2="521.80" stroke="#da9124" stroke-width="1.4"/>
</g>
</svg>
</body></html>
